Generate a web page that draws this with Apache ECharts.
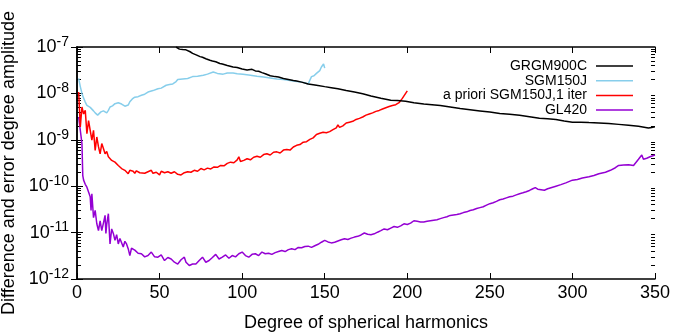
<!DOCTYPE html>
<html>
<head>
<meta charset="utf-8">
<script src="https://cdn.jsdelivr.net/npm/echarts@6/dist/echarts.min.js"></script>
<style>html,body{margin:0;padding:0;background:#fff}#c{width:675px;height:335px}</style>
</head>
<body>
<div id="c"></div>
<script>
// ---- data (degree, amplitude) ----
const seriesNames = ['GRGM900C', 'SGM150J', 'a priori SGM150J,1 iter', 'GL420'];
const xTicks = [0, 50, 100, 150, 200, 250, 300, 350];
const yDecades = [-12, -11, -10, -9, -8, -7];
const minorMantissas = [2, 3, 4, 5, 6, 7, 8, 9];

const grgm900c = [[60,1.0e-7],[61,9.4e-8],[62,9.0e-8],[63,8.5e-8],[64,8.8e-8],[65,8.6e-8],[66,8.7e-8],[67,8.2e-8],[68.5,7.9e-8],[70,7.3e-8],[71,6.9e-8],[72.5,6.7e-8],[74.5,6.2e-8],[76,6.0e-8],[78,5.6e-8],[80.5,5.2e-8],[82,5.0e-8],[84,4.8e-8],[86.5,4.4e-8],[88,4.3e-8],[91,4.0e-8],[94.5,3.7e-8],[97,3.6e-8],[100,3.35e-8],[103,3.2e-8],[106,3.3e-8],[108,3.05e-8],[110,3.0e-8],[112,2.8e-8],[114,2.65e-8],[117,2.4e-8],[120,2.3e-8],[122,2.25e-8],[125,2.1e-8],[128,2.0e-8],[131,1.9e-8],[133,1.85e-8],[136,1.75e-8],[140,1.6e-8],[145,1.5e-8],[150,1.4e-8],[154,1.33e-8],[158,1.26e-8],[163,1.16e-8],[168,1.07e-8],[173,9.8e-9],[178,8.8e-9],[184,7.9e-9],[190,7.1e-9],[194,7.0e-9],[199,6.8e-9],[204,6.3e-9],[210,5.9e-9],[215,5.7e-9],[220,5.5e-9],[226,5.1e-9],[232,4.7e-9],[238,4.45e-9],[244,4.2e-9],[250,3.95e-9],[256,3.7e-9],[262,3.55e-9],[268,3.4e-9],[274,3.15e-9],[280,2.9e-9],[285,2.85e-9],[290,2.75e-9],[295,2.55e-9],[300,2.4e-9],[305,2.4e-9],[310,2.35e-9],[316,2.3e-9],[322,2.25e-9],[328,2.15e-9],[334,2.05e-9],[340,1.95e-9],[346,1.8e-9],[348,1.85e-9],[350,1.9e-9]];

const sgm150j = [[1,2.1e-8],[2,1.4e-8],[3,1.0e-8],[4,7.9e-9],[5,6.5e-9],[6,5.5e-9],[7,6.0e-9],[8,5.0e-9],[9,4.7e-9],[10,4.2e-9],[11,3.8e-9],[12.5,3.4e-9],[13.5,3.6e-9],[14.5,4.0e-9],[16,4.2e-9],[17,3.9e-9],[18,3.8e-9],[19,4.3e-9],[20,5.1e-9],[21.5,5.4e-9],[23,6.0e-9],[25,6.3e-9],[27,5.9e-9],[29,5.3e-9],[30,5.1e-9],[31,5.6e-9],[32,6.6e-9],[33.5,7.6e-9],[35,8.3e-9],[37,8.5e-9],[39,9.1e-9],[41,9.6e-9],[43,1.07e-8],[46,1.15e-8],[49,1.26e-8],[51,1.3e-8],[54,1.5e-8],[56,1.55e-8],[58,1.6e-8],[60,1.8e-8],[61,2.0e-8],[64,2.05e-8],[67,2.1e-8],[70,2.3e-8],[73,2.35e-8],[76.5,2.45e-8],[79,2.6e-8],[82.5,2.9e-8],[85,2.7e-8],[88.5,2.6e-8],[91,2.75e-8],[94.5,2.75e-8],[97,2.65e-8],[100.5,2.6e-8],[104,2.5e-8],[109,2.35e-8],[113,2.25e-8],[117,2.15e-8],[121,2.05e-8],[125,2.0e-8],[129,1.9e-8],[133,1.8e-8],[136,1.75e-8],[138,1.7e-8],[140,1.6e-8],[142,2.3e-8],[143.5,2.4e-8],[145,2.7e-8],[147,3.1e-8],[148,3.7e-8],[149.3,4.3e-8],[150,3.5e-8]];

const aprioriSgm150j = [[1,1.07e-8],[2,1.9e-9],[3,5.1e-9],[4,3.6e-9],[5,4.3e-9],[6,1.35e-9],[7,2.6e-9],[8,1.6e-9],[9,9.8e-10],[10,1.6e-9],[11,5.9e-10],[12,1.15e-9],[13,7.1e-10],[14,5.0e-10],[15,8.3e-10],[16,6.5e-10],[17,5.0e-10],[18,5.6e-10],[19,4.3e-10],[20,4.6e-10],[21,3.6e-10],[22,3.8e-10],[23,3.3e-10],[24,3.4e-10],[25,2.8e-10],[26,3.0e-10],[27,2.4e-10],[28,2.6e-10],[29,2.2e-10],[30,2.3e-10],[31,1.86e-10],[32,2.2e-10],[33,2.0e-10],[34,2.1e-10],[35,1.9e-10],[36,2.15e-10],[38,1.95e-10],[39,2.1e-10],[41,1.9e-10],[43,2.05e-10],[45,2.2e-10],[46,1.9e-10],[48,2.0e-10],[50,1.75e-10],[51,2.1e-10],[53,1.95e-10],[55,2.05e-10],[57,1.9e-10],[59,2.05e-10],[61,1.8e-10],[63,1.75e-10],[65,1.95e-10],[67,2.05e-10],[69,2.0e-10],[71,2.2e-10],[73,2.1e-10],[75,2.4e-10],[77,2.25e-10],[79,2.45e-10],[81,2.35e-10],[83,2.6e-10],[85,2.55e-10],[87,2.8e-10],[89,2.75e-10],[91,3.1e-10],[93,3.3e-10],[95,3.2e-10],[97,3.7e-10],[98,4.3e-10],[99,3.4e-10],[101,3.6e-10],[103,3.9e-10],[105,3.7e-10],[107,4.2e-10],[109,4.4e-10],[111,4.2e-10],[113,4.8e-10],[115,5.0e-10],[117,4.7e-10],[119,5.4e-10],[121,5.5e-10],[123,5.2e-10],[125,6.0e-10],[127,6.2e-10],[129,6.0e-10],[131,7.0e-10],[133,7.6e-10],[135,7.9e-10],[137,8.9e-10],[139,9.1e-10],[141,1.02e-9],[143,1.1e-9],[145,1.3e-9],[147,1.38e-9],[149,1.45e-9],[151,1.42e-9],[153,1.5e-9],[155,1.65e-9],[157,1.8e-9],[158,2.1e-9],[159,1.85e-9],[161,2.0e-9],[163,2.3e-9],[165,2.4e-9],[167,2.5e-9],[169,2.75e-9],[171,2.9e-9],[173,3.1e-9],[175,3.4e-9],[177,3.6e-9],[179,3.8e-9],[181,4.1e-9],[183,4.3e-9],[185,4.6e-9],[187,4.9e-9],[189,5.2e-9],[191,5.5e-9],[193,5.7e-9],[195,6.3e-9],[197,7.8e-9],[199,1.0e-8],[200,1.13e-8]];

const gl420 = [[1,3.1e-9],[2,2.9e-9],[3,8.3e-10],[3.5,1.7e-10],[4,1.35e-10],[5,1.1e-10],[6,9.5e-11],[7,7.5e-11],[8,5.9e-11],[8.5,3.0e-11],[9,6.9e-11],[10,2.1e-11],[11,3.0e-11],[12,1.55e-11],[13,1.1e-11],[14,1.8e-11],[15,1.1e-11],[16,1.6e-11],[17,2.35e-11],[17.5,9.6e-12],[18,1.5e-11],[19,2.55e-11],[20,5.7e-12],[21,1.2e-11],[22,9.6e-12],[23,6.8e-12],[24,9.0e-12],[25,5.7e-12],[26,7.5e-12],[27,6.8e-12],[28,4.9e-12],[29,6.5e-12],[30,5.7e-12],[31,4.5e-12],[32,3.2e-12],[33,4.6e-12],[35,4.2e-12],[37,3.6e-12],[39,3.5e-12],[41,3.0e-12],[43,3.2e-12],[45,3.8e-12],[47,3.0e-12],[49,2.95e-12],[51,3.3e-12],[53,2.5e-12],[55,2.9e-12],[57,2.7e-12],[59,2.3e-12],[61,2.1e-12],[63,2.6e-12],[65,2.95e-12],[66,2.3e-12],[68,1.95e-12],[70,2.1e-12],[72,2.1e-12],[74,2.5e-12],[76,2.95e-12],[78,2.3e-12],[80,2.5e-12],[82,2.9e-12],[84,3.4e-12],[86,2.7e-12],[88,2.95e-12],[90,3.3e-12],[92,2.8e-12],[94,3.2e-12],[96,3.0e-12],[98,3.5e-12],[100,3.8e-12],[102,3.2e-12],[104,2.95e-12],[106,3.4e-12],[108,3.5e-12],[110,3.2e-12],[112,3.8e-12],[114,3.5e-12],[116,3.6e-12],[118,3.4e-12],[120,3.7e-12],[122,3.9e-12],[124,4.1e-12],[126,3.9e-12],[128,4.3e-12],[130,4.5e-12],[132,4.3e-12],[134,4.8e-12],[136,4.7e-12],[138,5.0e-12],[140,5.1e-12],[142,4.8e-12],[144,5.2e-12],[146,5.6e-12],[148,6.2e-12],[150,6.8e-12],[152,6.3e-12],[154,6.0e-12],[156,6.2e-12],[158,6.6e-12],[160,7.0e-12],[162,7.4e-12],[164,7.1e-12],[166,7.6e-12],[168,8.0e-12],[170,8.3e-12],[172,8.9e-12],[174,9.8e-12],[176,9.2e-12],[178,9.0e-12],[180,9.4e-12],[182,1.02e-11],[184,1.1e-11],[186,1.2e-11],[188,1.15e-11],[190,1.25e-11],[192,1.35e-11],[194,1.3e-11],[196,1.4e-11],[198,1.55e-11],[200,1.5e-11],[202,1.6e-11],[204,1.8e-11],[206,1.75e-11],[208,1.7e-11],[210,1.7e-11],[212,1.75e-11],[214,1.8e-11],[216,1.85e-11],[218,1.9e-11],[220,2.0e-11],[222,2.1e-11],[224,2.2e-11],[226,2.35e-11],[228,2.4e-11],[230,2.45e-11],[232,2.55e-11],[234,2.7e-11],[236,2.8e-11],[238,3.0e-11],[240,3.1e-11],[242,3.3e-11],[244,3.45e-11],[246,3.6e-11],[248,3.9e-11],[250,4.2e-11],[252,4.4e-11],[254,4.7e-11],[256,5.1e-11],[258,5.3e-11],[260,5.6e-11],[262,5.9e-11],[264,6.1e-11],[266,6.5e-11],[268,6.9e-11],[270,7.2e-11],[272,7.6e-11],[274,8.1e-11],[276,8.8e-11],[277.5,9.3e-11],[279,8.6e-11],[281,8.4e-11],[283,8.2e-11],[285,8.8e-11],[288,9.5e-11],[290,1.0e-10],[293,1.08e-10],[296,1.18e-10],[300,1.35e-10],[303,1.4e-10],[306,1.5e-10],[310,1.6e-10],[313,1.7e-10],[316,1.85e-10],[320,2.0e-10],[323,2.2e-10],[326,2.5e-10],[328,2.8e-10],[331,2.85e-10],[334,2.9e-10],[337,2.8e-10],[338,3.0e-10],[340,3.8e-10],[342,4.7e-10],[343,3.8e-10],[345,4.0e-10],[347,4.3e-10],[350,4.7e-10]];

const seriesColors = ['#000000', '#87CEEB', '#FF0000', '#9400D3'];
const seriesData = [grgm900c, sgm150j, aprioriSgm150j, gl420];

// ---- chart ----
const FONT = '"Liberation Sans", Arial, Helvetica, sans-serif';
// minor tick positions in exponent space (log10 of 2..9 x 10^e)
const minorTickExps = [];
yDecades.slice(0, -1).forEach(e => minorMantissas.forEach(m => minorTickExps.push(e + Math.log10(m))));

const chart = echarts.init(document.getElementById('c'), null, {renderer: 'canvas'});

const yLabelFmt = v => {
  const e = Math.round(Math.log10(v));
  return '{b|10}{s|' + e + '}';
};

const frameAxisLine = {show: true, lineStyle: {color: '#000', width: 1.5}};
const majorTick = {show: true, inside: true, length: 6, lineStyle: {color: '#000', width: 1}};

const minorAxis = pos => ({
  type: 'value', min: yDecades[0], max: yDecades[yDecades.length - 1],
  position: pos,
  axisLine: {show: false},
  axisLabel: {show: false},
  splitLine: {show: false},
  axisTick: {show: true, inside: true, length: 4, customValues: minorTickExps, lineStyle: {color: '#000', width: 1}}
});

const option = {
  animation: false,
  backgroundColor: '#fff',
  textStyle: {fontFamily: FONT},
  grid: {left: 77, right: 20, top: 47, bottom: 56, containLabel: false, outerBoundsMode: 'none'},
  legend: {
    data: seriesNames,
    orient: 'vertical',
    right: 37,
    top: 54,
    align: 'right',
    icon: 'rect',
    itemWidth: 37,
    itemHeight: 1.5,
    itemGap: 0.7,
    textStyle: {fontSize: 14, lineHeight: 14, color: '#000', fontFamily: FONT, padding: [0, 4, 0, 0]}
  },
  xAxis: [
    {
      type: 'value', min: xTicks[0], max: xTicks[xTicks.length - 1], interval: 50,
      position: 'bottom',
      name: 'Degree of spherical harmonics', nameLocation: 'middle', nameGap: 35,
      nameTextStyle: {fontSize: 18, color: '#000', fontFamily: FONT},
      axisLine: frameAxisLine,
      axisTick: majorTick,
      axisLabel: {fontSize: 18, color: '#000', margin: 5, fontFamily: FONT},
      splitLine: {show: false}
    },
    {
      type: 'value', min: xTicks[0], max: xTicks[xTicks.length - 1], interval: 50,
      position: 'top',
      axisLine: frameAxisLine,
      axisTick: majorTick,
      axisLabel: {show: false},
      splitLine: {show: false}
    }
  ],
  yAxis: [
    {
      type: 'log', logBase: 10, min: 1e-12, max: 1e-7,
      position: 'left',
      name: 'Difference and error degree amplitude', nameLocation: 'middle', nameGap: 49,
      nameTextStyle: {fontSize: 18, color: '#000', fontFamily: FONT},
      axisLine: frameAxisLine,
      axisTick: majorTick,
      axisLabel: {
        margin: 8, formatter: yLabelFmt,
        rich: {
          b: {fontSize: 18, color: '#000', fontFamily: FONT},
          s: {fontSize: 14, color: '#000', fontFamily: FONT, padding: [0, 0, 10, 0]}
        }
      },
      splitLine: {show: false}
    },
    {
      type: 'log', logBase: 10, min: 1e-12, max: 1e-7,
      position: 'right',
      axisLine: frameAxisLine,
      axisTick: majorTick,
      axisLabel: {show: false},
      splitLine: {show: false}
    },
    minorAxis('left'),
    minorAxis('right')
  ],
  series: seriesNames.map((name, i) => ({
    name: name,
    type: 'line',
    xAxisIndex: 0, yAxisIndex: 0,
    data: seriesData[i],
    symbol: 'none',
    showSymbol: false,
    color: seriesColors[i],
    lineStyle: {color: seriesColors[i], width: 1.5},
    z: 3 + (seriesNames.length - i),
    clip: true
  }))
};

chart.setOption(option);
</script>
</body>
</html>
